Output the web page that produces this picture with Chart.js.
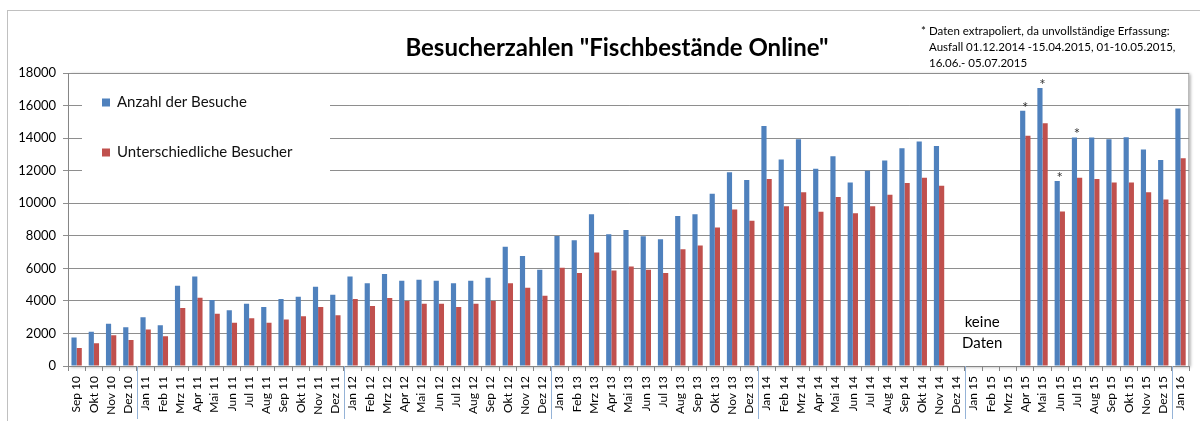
<!DOCTYPE html>
<html lang="de">
<head>
<meta charset="utf-8">
<title>Besucherzahlen Fischbestände Online</title>
<script src="https://cdn.jsdelivr.net/npm/chart.js@4/dist/chart.umd.min.js"></script>
<style>
  html, body { margin: 0; padding: 0; background: #fff; }
  #chart-besucher { display: block; }
</style>
</head>
<body>
<canvas id="chart-besucher" width="1200" height="421"></canvas>
<script>
// besucher.js - Monatliche Besucherzahlen als gruppiertes Säulendiagramm

// Monate Sep 2010 bis Jan 2016
const monate = [
  'Sep 10', 'Okt 10', 'Nov 10', 'Dez 10',
  'Jan 11', 'Feb 11', 'Mrz 11', 'Apr 11', 'Mai 11', 'Jun 11', 'Jul 11', 'Aug 11', 'Sep 11', 'Okt 11', 'Nov 11', 'Dez 11',
  'Jan 12', 'Feb 12', 'Mrz 12', 'Apr 12', 'Mai 12', 'Jun 12', 'Jul 12', 'Aug 12', 'Sep 12', 'Okt 12', 'Nov 12', 'Dez 12',
  'Jan 13', 'Feb 13', 'Mrz 13', 'Apr 13', 'Mai 13', 'Jun 13', 'Jul 13', 'Aug 13', 'Sep 13', 'Okt 13', 'Nov 13', 'Dez 13',
  'Jan 14', 'Feb 14', 'Mrz 14', 'Apr 14', 'Mai 14', 'Jun 14', 'Jul 14', 'Aug 14', 'Sep 14', 'Okt 14', 'Nov 14', 'Dez 14',
  'Jan 15', 'Feb 15', 'Mrz 15', 'Apr 15', 'Mai 15', 'Jun 15', 'Jul 15', 'Aug 15', 'Sep 15', 'Okt 15', 'Nov 15', 'Dez 15',
  'Jan 16'
];

// Anzahl der Besuche (null = keine Daten)
const besuche = [
  1750, 2100, 2590, 2380,
  3000, 2510, 4930, 5500, 4050, 3430, 3820, 3620, 4110, 4250, 4870, 4380,
  5500, 5080, 5650, 5240, 5300, 5240, 5080, 5240, 5420, 7320, 6760, 5920,
  7990, 7730, 9330, 8100, 8360, 7970, 7790, 9210, 9330, 10580, 11900, 11430,
  14750, 12680, 13930, 12120, 12880, 11280, 12000, 12620, 13380, 13790, 13520, null,
  null, null, null, 15680, 17080, 11360, 14040, 14040, 13930, 14060, 13300, 12660,
  15820
];

// Unterschiedliche Besucher
const besucher = [
  1110, 1400, 1890, 1600,
  2240, 1830, 3560, 4190, 3210, 2650, 2940, 2650, 2860, 3060, 3620, 3120,
  4110, 3680, 4170, 3990, 3820, 3820, 3620, 3820, 3990, 5080, 4810, 4320,
  6040, 5710, 6970, 5860, 6120, 5920, 5710, 7170, 7400, 8510, 9620, 8920,
  11490, 9820, 10670, 9470, 10380, 9390, 9820, 10520, 11240, 11570, 11080, null,
  null, null, null, 14140, 14920, 9490, 11570, 11490, 11280, 11280, 10670, 10230,
  12760
];

// Monate mit extrapolierten Werten (Sternchen)
const extrapoliert = ['Apr 15', 'Mai 15', 'Jun 15', 'Jul 15'];

const fussnote = [
  'Daten extrapoliert, da unvollständige Erfassung:',
  'Ausfall 01.12.2014 -15.04.2015, 01-10.05.2015,',
  '16.06.- 05.07.2015'
];

const SCHRIFT = 'Lato, "Open Sans", sans-serif';

// Rahmen, Legende, Titel und Anmerkungen
const dekoPlugin = {
  id: 'deko',
  beforeDraw(chart) {
    const ctx = chart.ctx;
    const a = chart.chartArea;
    ctx.save();
    ctx.fillStyle = '#ffffff';
    ctx.fillRect(0, 0, chart.width, chart.height);

    // äußerer Rahmen
    ctx.strokeStyle = '#c0c0c0';
    ctx.lineWidth = 1;
    ctx.strokeRect(7.5, 10.5, 1210, 430);

    // Zeichenfläche mit Schatten
    ctx.shadowColor = 'rgba(0, 0, 0, 0.35)';
    ctx.shadowBlur = 3;
    ctx.shadowOffsetX = 2;
    ctx.shadowOffsetY = 1;
    ctx.fillStyle = '#ffffff';
    ctx.fillRect(a.left, a.top, a.right - a.left, a.bottom - a.top);
    ctx.shadowColor = 'transparent';
    ctx.strokeStyle = '#b0b0b0';
    ctx.strokeRect(a.left + 0.5, a.top + 0.5, a.right - a.left - 1, a.bottom - a.top);
    ctx.restore();
  },
  beforeDatasetsDraw(chart) {
    const ctx = chart.ctx;
    ctx.save();
    // Legende liegt auf weißem Feld über den Gitterlinien
    ctx.fillStyle = '#ffffff';
    ctx.fillRect(82, 85, 248, 100);
    const eintraege = chart.data.datasets;
    const zeilen = [102.5, 152.5];
    ctx.font = '15px ' + SCHRIFT;
    ctx.textBaseline = 'middle';
    ctx.textAlign = 'left';
    eintraege.forEach((ds, i) => {
      ctx.fillStyle = ds.backgroundColor;
      ctx.fillRect(102, zeilen[i] - 4, 8, 8);
      ctx.fillStyle = '#111111';
      ctx.fillText(ds.label, 117, zeilen[i]);
    });
    ctx.restore();
  },
  afterDraw(chart) {
    const ctx = chart.ctx;
    const x = chart.scales.x;
    const a = chart.chartArea;
    ctx.save();

    // Trennlinien zwischen den Jahren unter der Achse
    ctx.strokeStyle = '#95b3d7';
    ctx.lineWidth = 1;
    monate.forEach((m, i) => {
      if (i > 0 && m.startsWith('Jan')) {
        const px = Math.round((x.getPixelForTick(i - 1) + x.getPixelForTick(i)) / 2) + 0.5;
        ctx.beginPath();
        ctx.moveTo(px, a.bottom);
        ctx.lineTo(px, 419);
        ctx.stroke();
      }
    });

    // Titel
    ctx.fillStyle = '#000000';
    ctx.font = 'bold 24px ' + SCHRIFT;
    ctx.textAlign = 'center';
    ctx.textBaseline = 'middle';
    ctx.fillText('Besucherzahlen "Fischbestände Online"', 617, 48);

    // Fußnote oben rechts
    ctx.font = '11.5px ' + SCHRIFT;
    ctx.textAlign = 'left';
    ctx.fillText('*', 921, 31);
    fussnote.forEach((zeile, i) => {
      ctx.fillText(zeile, 929, 31 + i * 16);
    });

    // Lücke ohne Daten
    ctx.font = '15px ' + SCHRIFT;
    ctx.textAlign = 'center';
    const mitte = (x.getPixelForTick(monate.indexOf('Jan 15')) + x.getPixelForTick(monate.indexOf('Feb 15'))) / 2;
    ctx.fillText('keine', mitte, 322);
    ctx.fillText('Daten', mitte, 343);

    // Sternchen über den extrapolierten Säulen
    const meta = chart.getDatasetMeta(0);
    ctx.font = '15px ' + SCHRIFT;
    ctx.fillStyle = '#333333';
    extrapoliert.forEach(m => {
      const bar = meta.data[monate.indexOf(m)];
      if (!bar) return;
      ctx.fillText('*', bar.x + bar.width / 2, bar.y - 3);
    });
    ctx.restore();
  }
};

const ctx = document.getElementById('chart-besucher').getContext('2d');
const chart = new Chart(ctx, {
  type: 'bar',
  data: {
    labels: monate,
    datasets: [
      {
        label: 'Anzahl der Besuche',
        data: besuche,
        backgroundColor: '#4f81bd',
        borderWidth: 0
      },
      {
        label: 'Unterschiedliche Besucher',
        data: besucher,
        backgroundColor: '#c0504d',
        borderWidth: 0
      }
    ]
  },
  options: {
    responsive: false,
    animation: false,
    devicePixelRatio: 1,
    layout: { padding: { top: 73, right: 10, left: 0, bottom: 0 } },
    datasets: {
      bar: { categoryPercentage: 0.6, barPercentage: 1.0 }
    },
    plugins: {
      legend: { display: false },
      title: { display: false },
      tooltip: { enabled: false }
    },
    scales: {
      x: {
        grid: {
          offset: true,
          drawOnChartArea: false,
          drawTicks: true,
          tickLength: 5,
          color: '#868686'
        },
        border: { color: '#868686' },
        ticks: {
          autoSkip: false,
          maxRotation: 90,
          minRotation: 90,
          padding: 5,
          color: '#000000',
          font: { family: SCHRIFT, size: 12 }
        },
        afterFit(scale) { scale.height = 55; }
      },
      y: {
        min: 0,
        max: 18000,
        ticks: {
          stepSize: 2000,
          padding: 7,
          color: '#000000',
          font: { family: SCHRIFT, size: 13 },
          callback: (wert) => String(wert)
        },
        grid: { color: '#8e8e8e', tickLength: 5 },
        border: { color: '#868686' },
        afterFit(scale) { scale.width = 68; }
      }
    }
  },
  plugins: [dekoPlugin]
});
</script>
</body>
</html>
